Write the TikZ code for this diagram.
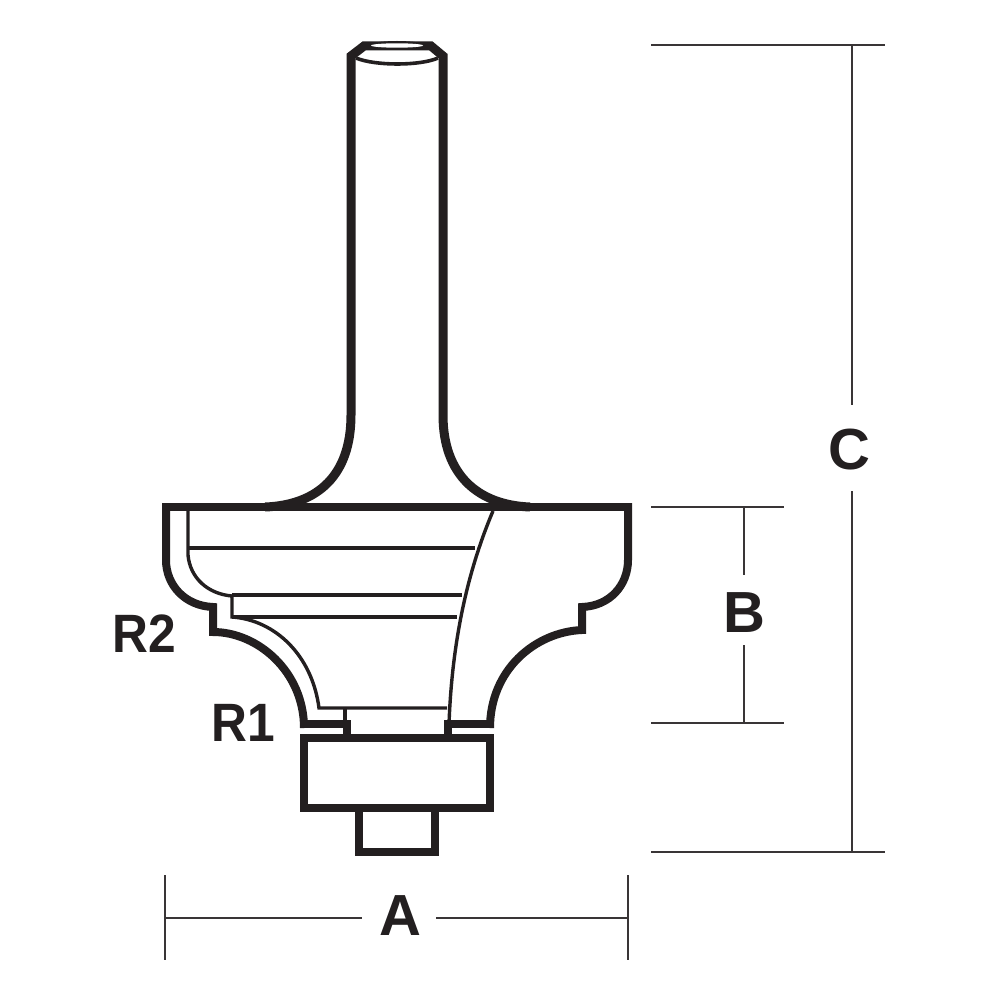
\documentclass[tikz,border=0pt]{standalone}
\usepackage{fontspec}
\setmainfont{Liberation Sans}
\definecolor{ink}{HTML}{231F20}
\newcommand{\rtext}[1]{\scalebox{.92}[1]{#1}}
\tikzset{
  thick outline/.style={draw=ink,line width=8pt,line join=miter,line cap=butt},
  shank outline/.style={draw=ink,line width=9pt,line join=miter,line cap=butt},
  bearing outline/.style={draw=ink,line width=7.5pt,line join=miter},
  thin outline/.style={draw=ink,line width=3.4pt,line cap=butt},
  dimline/.style={draw=ink!90,line width=2.5pt},
  dimlabel/.style={text=ink,font=\fontsize{58}{58}\selectfont\bfseries,inner sep=0pt},
  rlabel/.style={text=ink,font=\fontsize{54}{54}\selectfont\bfseries,inner sep=0pt}
}
\begin{document}
\begin{tikzpicture}[x=1pt,y=-1pt]
\useasboundingbox (0,0) rectangle (1000,1000);
% shank
\draw[shank outline] (265,507) .. controls (318,505) and (351,475) .. (351,415) -- (351,56) -- (364,46) -- (431,46) -- (443,56) -- (443,415) .. controls (443,475) and (478,505) .. (530,507);
\draw[draw=ink,line width=3.6pt] (356,58) .. controls (375,66) and (420,66) .. (438,58);
\fill[ink] (397,45.5) ellipse (29 and 4.5);
\fill[white] (397,45.5) ellipse (26 and 2.2);
% body
\draw[thick outline] (304,724) -- (347,724) -- (347,738);
\draw[thick outline] (162,507) -- (632,507);
\draw[thick outline] (166,503) -- (166,560) .. controls (166,585) and (185,606) .. (213,607) -- (213,632) .. controls (258,632) and (304,672) .. (304,728);
\draw[thick outline] (628,503) -- (628,560) .. controls (628,585) and (610,606) .. (582,607) -- (582,630) .. controls (535,632) and (490,670) .. (490,728);
\draw[thick outline] (490,724) -- (448,724) -- (448,738);
% inner lines
\draw[thin outline] (188,511) -- (188,555) .. controls (190,578) and (208,594) .. (232,596) -- (232,617) .. controls (275,620) and (312,655) .. (319,708) -- (447,708);
\draw[thin outline] (189,548) -- (475,548);
\draw[thin outline] (232,595) -- (462,595);
\draw[thin outline] (232,617) -- (457,617);
\draw[thin outline] (345,708) -- (345,724);
\draw[thin outline] (493,511) .. controls (468,570) and (452,640) .. (449,724);
% bearing
\draw[bearing outline] (304,738) rectangle (490,808);
\draw[bearing outline] (359,808) rectangle (435,852);
% dimensions
\coordinate (cT1) at (651,45); \coordinate (cT2) at (885,45);
\coordinate (cB1) at (651,852); \coordinate (cB2) at (885,852);
\coordinate (cUp) at (852,45); \coordinate (cDn) at (852,852);
\coordinate (cGapT) at (852,405); \coordinate (cGapB) at (852,491);
\coordinate (bT1) at (651,507); \coordinate (bT2) at (784,507);
\coordinate (bB1) at (651,723); \coordinate (bB2) at (784,723);
\coordinate (bUp) at (744,507); \coordinate (bDn) at (744,723);
\coordinate (bGapT) at (744,575); \coordinate (bGapB) at (744,645);
\coordinate (aL1) at (165,875); \coordinate (aL2) at (165,960);
\coordinate (aR1) at (628,875); \coordinate (aR2) at (628,960);
\coordinate (aL) at (165,918); \coordinate (aR) at (628,918);
\coordinate (aGapL) at (362,918); \coordinate (aGapR) at (436,918);
\draw[dimline] (cT1) -- (cT2); \draw[dimline] (cB1) -- (cB2);
\draw[dimline] (bT1) -- (bT2); \draw[dimline] (bB1) -- (bB2);
\draw[dimline] (aL1) -- (aL2); \draw[dimline] (aR1) -- (aR2);
\node[dimlabel] (C) at (849,450) {C};
\node[dimlabel] (B) at (744,613) {B};
\node[dimlabel] (A) at (400,916) {A};
\draw[dimline] (cUp) -- (cGapT); \draw[dimline] (cGapB) -- (cDn);
\draw[dimline] (bUp) -- (bGapT); \draw[dimline] (bGapB) -- (bDn);
\draw[dimline] (aL) -- (aGapL); \draw[dimline] (aGapR) -- (aR);
\node[rlabel] (R2) at (144.5,634) {\rtext{R2}};
\node[rlabel] (R1) at (243,722.5) {\rtext{R1}};
\end{tikzpicture}
\end{document}
